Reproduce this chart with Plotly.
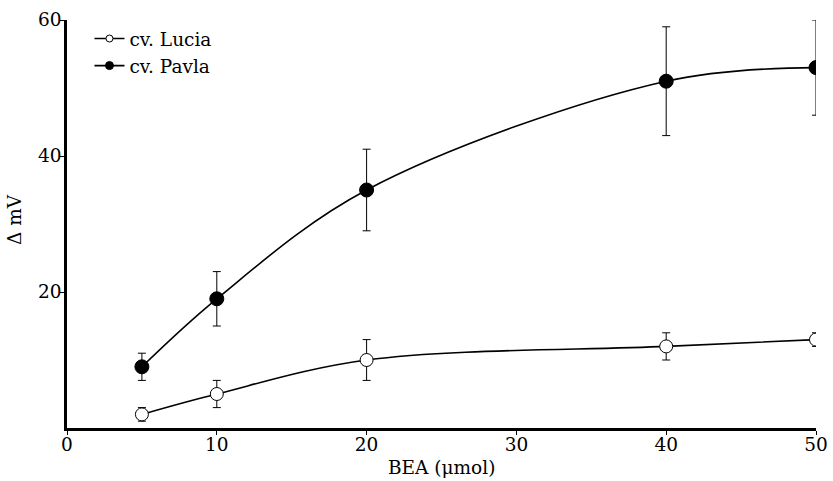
import plotly.graph_objects as go

bea = [5, 10, 20, 40, 50]
lucia = [2, 5, 10, 12, 13]
lucia_err = [1, 2, 3, 2, 1]
pavla = [9, 19, 35, 51, 53]
pavla_err = [2, 4, 6, 8, 7]

font_family = "DejaVu Serif, Liberation Serif, serif"
fs = 18.5

fig = go.Figure()
fig.add_trace(go.Scatter(
    x=bea, y=lucia, name="cv. Lucia", mode="lines+markers", showlegend=False,
    line=dict(shape="spline", color="black", width=1.6),
    marker=dict(symbol="circle", size=13, color="white", line=dict(color="black", width=1)),
    error_y=dict(type="data", array=lucia_err, color="black", thickness=1, width=4),
))
fig.add_trace(go.Scatter(
    x=bea, y=pavla, name="cv. Pavla", mode="lines+markers", showlegend=False,
    line=dict(shape="spline", color="black", width=1.6),
    marker=dict(symbol="circle", size=14, color="black", line=dict(color="black", width=1)),
    error_y=dict(type="data", array=pavla_err, color="black", thickness=1, width=4),
))
# legend-only entries with smaller symbols
fig.add_trace(go.Scatter(
    x=[None], y=[None], name="cv. Lucia", mode="lines+markers",
    line=dict(color="black", width=1.6),
    marker=dict(symbol="circle", size=7, color="white", line=dict(color="black", width=1)),
))
fig.add_trace(go.Scatter(
    x=[None], y=[None], name="cv. Pavla", mode="lines+markers",
    line=dict(color="black", width=1.6),
    marker=dict(symbol="circle", size=8, color="black", line=dict(color="black", width=1)),
))

fig.update_layout(
    width=833, height=481,
    margin=dict(l=67, r=17, t=20, b=53),
    paper_bgcolor="white", plot_bgcolor="white",
    font=dict(family=font_family, size=fs, color="black"),
    showlegend=True,
    legend=dict(x=0.03, y=1.0, xanchor="left", yanchor="top",
                bgcolor="rgba(0,0,0,0)", itemwidth=30, tracegroupgap=0,
                itemsizing="trace", font=dict(size=fs)),
    xaxis=dict(range=[0, 50], tickvals=[0, 10, 20, 30, 40, 50], automargin=False,
               showgrid=False, zeroline=False, showline=True, linecolor="black", linewidth=2.5,
               ticks="outside", ticklen=4, tickwidth=1, tickcolor="black",
               ticklabelstandoff=-6),
    yaxis=dict(range=[0, 60], tickvals=[20, 40, 60], automargin=False,
               showgrid=False, zeroline=False, showline=True, linecolor="black", linewidth=2.5,
               ticks="outside", ticklen=4, tickwidth=1, tickcolor="black",
               ticklabelstandoff=-5),
    annotations=[
        dict(text="BEA (μmol)", xref="paper", yref="paper", x=0.5, y=0,
             yshift=-39, xanchor="center", yanchor="middle", showarrow=False,
             font=dict(size=fs)),
        dict(text="Δ mV", xref="paper", yref="paper", x=0, y=0.51,
             xshift=-52, xanchor="center", yanchor="middle", showarrow=False,
             textangle=-90, font=dict(size=fs)),
    ],
)

fig.write_html("out.html")
